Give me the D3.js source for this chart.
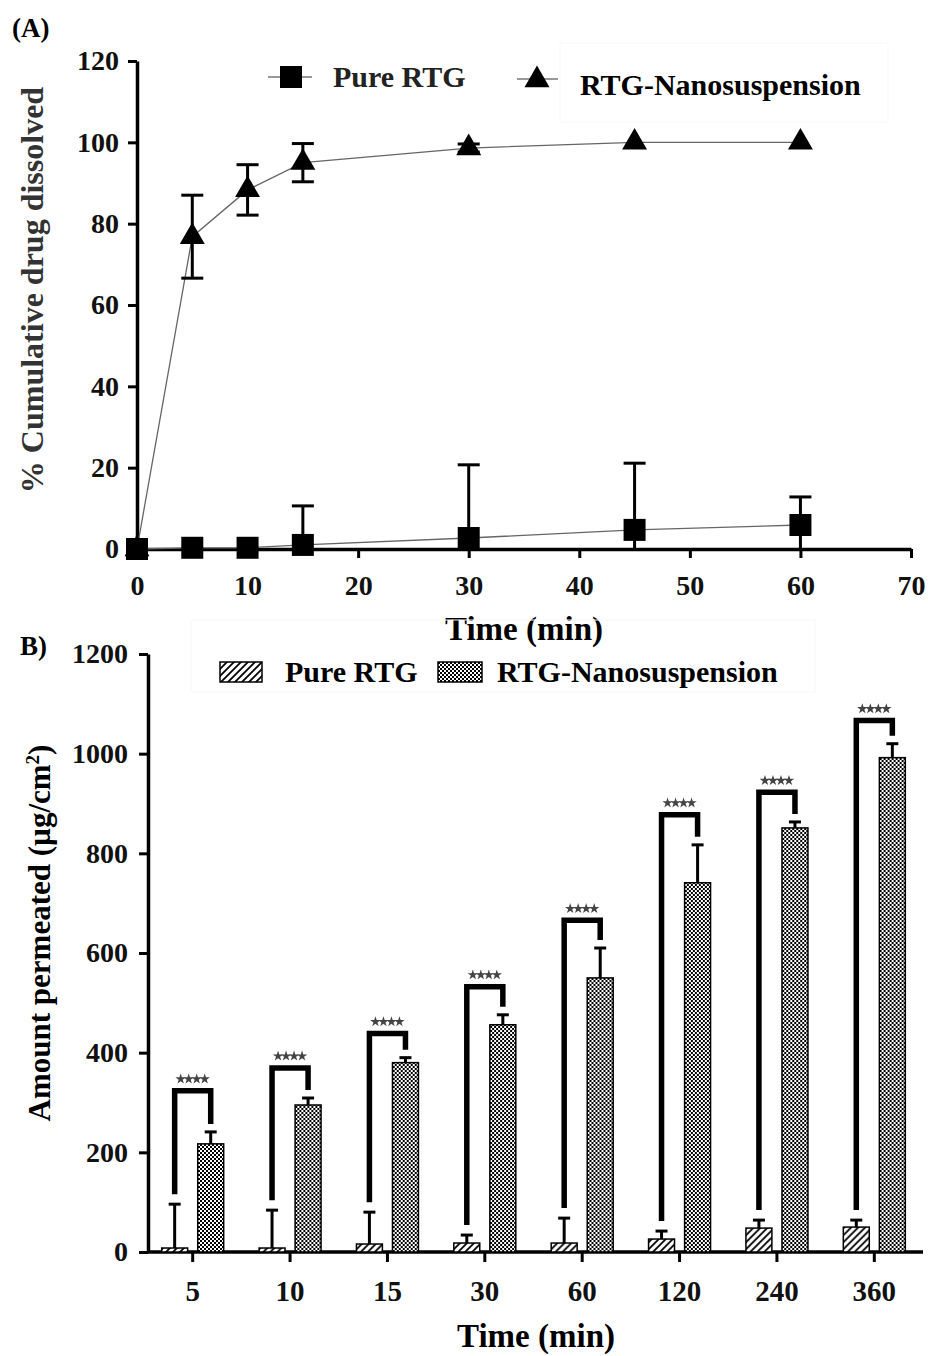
<!DOCTYPE html>
<html>
<head>
<meta charset="utf-8">
<script src="https://cdnjs.cloudflare.com/ajax/libs/d3/7.8.5/d3.min.js"></script>
<style>
  body { margin: 0; background: #fff; }
  svg { display: block; font-family: "Liberation Serif", "Times New Roman", serif; font-weight: bold; }
</style>
</head>
<body>
<script>

// ---- panel A : dissolution ----
var timeA = [0, 5, 10, 15, 30, 45, 60];
var pureA = [0, 0.3, 0.3, 1.0, 2.7, 4.7, 5.9];
var pureAErr = [0, 0, 0, 9.6, 18, 16.4, 6.9];
var nanoA = [0, 76.8, 88.3, 95, 98.6, 100, 100];
var nanoAErr = [0, 10.2, 6.2, 4.7, 1, 0, 0];
var xTicksA = [0, 10, 20, 30, 40, 50, 60, 70];
var yTicksA = [0, 20, 40, 60, 80, 100, 120];

// ---- panel B : permeation ----
var timeB = ["5", "10", "15", "30", "60", "120", "240", "360"];
var pureB = [8, 8, 16, 18, 18, 26, 48, 50];
var pureBErr = [88, 76, 64, 16, 50, 16, 16, 14];
var nanoB = [217, 295, 380, 456, 550, 741, 851, 992];
var nanoBErr = [24, 14, 10, 20, 60, 76, 12, 28];
var bracketB = [329, 375, 444, 538, 671, 883, 928, 1072];
var yTicksB = [0, 200, 400, 600, 800, 1000, 1200];

var svg = d3.select("body").append("svg")
    .attr("width", 928)
    .attr("height", 1356);

var defs = svg.append("defs");

var hatch = defs.append("pattern")
    .attr("id", "hatch")
    .attr("patternUnits", "userSpaceOnUse")
    .attr("width", 7).attr("height", 7);
hatch.append("rect").attr("width", 7).attr("height", 7).attr("fill", "#fff");
hatch.append("path")
    .attr("d", "M-1,1 l2,-2 M0,7 l7,-7 M6,8 l2,-2")
    .attr("stroke", "#000").attr("stroke-width", 1.8);

var checker = defs.append("pattern")
    .attr("id", "checker")
    .attr("patternUnits", "userSpaceOnUse")
    .attr("width", 4).attr("height", 4);
checker.append("rect").attr("width", 4).attr("height", 4).attr("fill", "#fff");
checker.append("rect").attr("width", 2).attr("height", 2).attr("fill", "#000");
checker.append("rect").attr("x", 2).attr("y", 2).attr("width", 2).attr("height", 2).attr("fill", "#000");

drawPanelA();
drawPanelB();

function styleAxis(g, fontSize) {
    g.select(".domain").attr("stroke", "#000").attr("stroke-width", 3.5);
    g.selectAll(".tick line").attr("stroke", "#000").attr("stroke-width", 3);
    g.selectAll(".tick text")
        .attr("fill", "#111")
        .style("font-size", fontSize + "px")
        .style("font-family", "'Liberation Serif', 'Times New Roman', serif")
        .style("font-weight", "bold");
}

function drawPanelA() {
    var x = d3.scaleLinear().domain([0, 70]).range([137, 911]);
    var y = d3.scaleLinear().domain([0, 120]).range([549, 61]);

    var gx = svg.append("g")
        .attr("transform", "translate(0," + y(0) + ")")
        .call(d3.axisBottom(x).tickValues(xTicksA).tickSize(9).tickPadding(17).tickSizeOuter(0));
    styleAxis(gx, 28);

    var gy = svg.append("g")
        .attr("transform", "translate(" + x(0) + ",0)")
        .call(d3.axisLeft(y).tickValues(yTicksA).tickSize(9).tickPadding(9).tickSizeOuter(0));
    styleAxis(gy, 28);

    var nano = timeA.map(function(t, i) { return { t: t, v: nanoA[i], e: nanoAErr[i] }; });
    var pure = timeA.map(function(t, i) { return { t: t, v: pureA[i], e: pureAErr[i] }; });

    var line = d3.line()
        .x(function(d) { return x(d.t); })
        .y(function(d) { return y(d.v); });

    [nano, pure].forEach(function(series) {
        svg.append("path")
            .datum(series)
            .attr("d", line)
            .attr("fill", "none")
            .attr("stroke", "#666")
            .attr("stroke-width", 1.3);
    });

    // error bars
    var capW = 11;
    [nano, pure].forEach(function(series) {
        var eb = svg.append("g").attr("stroke", "#000").attr("stroke-width", 3);
        series.filter(function(d) { return d.e > 0; }).forEach(function(d) {
            var lo = Math.max(0, d.v - d.e), hi = d.v + d.e;
            eb.append("line")
                .attr("x1", x(d.t)).attr("x2", x(d.t))
                .attr("y1", y(lo)).attr("y2", y(hi));
            eb.append("line")
                .attr("x1", x(d.t) - capW).attr("x2", x(d.t) + capW)
                .attr("y1", y(hi)).attr("y2", y(hi));
            if (d.v - d.e > 0) {
                eb.append("line")
                    .attr("x1", x(d.t) - capW).attr("x2", x(d.t) + capW)
                    .attr("y1", y(lo)).attr("y2", y(lo));
            }
        });
    });

    var tri = d3.symbol().type(d3.symbolTriangle).size(270);
    var sq = d3.symbol().type(d3.symbolSquare).size(484);

    svg.append("g").selectAll("path")
        .data(nano)
        .enter()
        .append("path")
        .attr("d", tri)
        .attr("transform", function(d) { return "translate(" + x(d.t) + "," + y(d.v) + ")"; })
        .attr("fill", "#000");

    svg.append("g").selectAll("path")
        .data(pure)
        .enter()
        .append("path")
        .attr("d", sq)
        .attr("transform", function(d) { return "translate(" + x(d.t) + "," + y(d.v) + ")"; })
        .attr("fill", "#000");

    // legend
    svg.append("rect")
        .attr("x", 560).attr("y", 43).attr("width", 328).attr("height", 79)
        .attr("fill", "none").attr("stroke", "#f8f8f8");
    svg.append("line").attr("x1", 268).attr("x2", 312).attr("y1", 77).attr("y2", 77)
        .attr("stroke", "#777").attr("stroke-width", 1.4);
    svg.append("path").attr("d", sq).attr("transform", "translate(291,77)");
    svg.append("text").attr("x", 333).attr("y", 87).attr("fill", "#222").style("font-size", "30px").text("Pure RTG");
    svg.append("line").attr("x1", 517).attr("x2", 558).attr("y1", 79).attr("y2", 79)
        .attr("stroke", "#777").attr("stroke-width", 1.4);
    svg.append("path").attr("d", tri).attr("transform", "translate(537,80)");
    svg.append("text").attr("x", 580).attr("y", 95).style("font-size", "30px").text("RTG-Nanosuspension");

    // titles
    svg.append("text").attr("x", 12).attr("y", 37).style("font-size", "27px").text("(A)");
    svg.append("text")
        .attr("x", 524).attr("y", 640)
        .attr("text-anchor", "middle")
        .style("font-size", "33px")
        .text("Time (min)");
    svg.append("text")
        .attr("transform", "translate(43,290) rotate(-90)")
        .attr("text-anchor", "middle")
        .attr("fill", "#333")
        .style("font-size", "32px")
        .text("% Cumulative drug dissolved");
}

function drawPanelB() {
    var x0 = d3.scaleBand().domain(timeB).range([144, 923]);
    var x1 = d3.scaleBand().domain(["pure", "nano"])
        .range([x0.bandwidth() / 2 - 31, x0.bandwidth() / 2 + 31])
        .paddingInner(0.28);
    var y = d3.scaleLinear().domain([0, 1200]).range([1252, 654]);

    var gx = svg.append("g")
        .attr("transform", "translate(0," + y(0) + ")")
        .call(d3.axisBottom(x0).tickSize(10).tickPadding(18).tickSizeOuter(0));
    gx.select(".domain").remove();
    styleAxis(gx, 29);
    svg.append("line")
        .attr("x1", 148).attr("x2", 923)
        .attr("y1", y(0)).attr("y2", y(0))
        .attr("stroke", "#000").attr("stroke-width", 3.5);

    var gy = svg.append("g")
        .attr("transform", "translate(148,0)")
        .call(d3.axisLeft(y).tickValues(yTicksB).tickFormat(d3.format("d"))
            .tickSize(9).tickPadding(11).tickSizeOuter(0));
    styleAxis(gy, 28);

    var rows = timeB.map(function(t, i) {
        return { t: t, pure: pureB[i], pureErr: pureBErr[i], nano: nanoB[i], nanoErr: nanoBErr[i], top: bracketB[i] };
    });

    var groups = svg.append("g").selectAll("g")
        .data(rows)
        .enter()
        .append("g")
        .attr("transform", function(d) { return "translate(" + x0(d.t) + ",0)"; });

    var bw = x1.bandwidth();
    var capW = 6;

    ["pure", "nano"].forEach(function(k) {
        // error bar (upper)
        groups.append("line")
            .attr("x1", x1(k) + bw / 2).attr("x2", x1(k) + bw / 2)
            .attr("y1", function(d) { return y(d[k]); })
            .attr("y2", function(d) { return y(d[k] + d[k + "Err"]); })
            .attr("stroke", "#000").attr("stroke-width", 3);
        groups.append("line")
            .attr("x1", x1(k) + bw / 2 - capW).attr("x2", x1(k) + bw / 2 + capW)
            .attr("y1", function(d) { return y(d[k] + d[k + "Err"]); })
            .attr("y2", function(d) { return y(d[k] + d[k + "Err"]); })
            .attr("stroke", "#000").attr("stroke-width", 3);
        groups.append("rect")
            .attr("x", x1(k))
            .attr("width", bw)
            .attr("y", function(d) { return y(d[k]); })
            .attr("height", function(d) { return y(0) - y(d[k]); })
            .attr("fill", k == "pure" ? "url(#hatch)" : "url(#checker)")
            .attr("stroke", "#000")
            .attr("stroke-width", 1.5);
    });

    // significance brackets
    groups.append("path")
        .attr("d", function(d) {
            var lx = x1("pure") + bw / 2, rx = x1("nano") + bw / 2;
            var ty = y(d.top) + 2.75;
            var lb = y(d.pure + d.pureErr) - 10;
            var rb = y(d.nano + d.nanoErr) - 8;
            return "M" + lx + "," + lb + "V" + ty + "H" + rx + "V" + rb;
        })
        .attr("fill", "none")
        .attr("stroke", "#000")
        .attr("stroke-width", 5.5);

    var star = d3.symbol().type(d3.symbolStar).size(34);
    groups.each(function(d) {
        var g = d3.select(this);
        var cx = (x1("pure") + x1("nano") + bw) / 2;
        for (var s = 0; s < 4; s++) {
            g.append("path")
                .attr("d", star)
                .attr("transform", "translate(" + (cx - 12 + s * 8) + "," + (y(d.top) - 9) + ")")
                .attr("fill", "#444");
        }
    });

    // legend
    svg.append("rect")
        .attr("x", 191).attr("y", 620).attr("width", 624).attr("height", 72)
        .attr("fill", "none").attr("stroke", "#f8f8f8");
    svg.append("rect").attr("x", 220).attr("y", 662).attr("width", 42).attr("height", 20)
        .attr("fill", "url(#hatch)").attr("stroke", "#000").attr("stroke-width", 1.5);
    svg.append("text").attr("x", 285).attr("y", 682).style("font-size", "30px").text("Pure RTG");
    svg.append("rect").attr("x", 438).attr("y", 662).attr("width", 44).attr("height", 20)
        .attr("fill", "url(#checker)").attr("stroke", "#000").attr("stroke-width", 1.5);
    svg.append("text").attr("x", 497).attr("y", 682).style("font-size", "30px").text("RTG-Nanosuspension");

    // titles
    svg.append("text").attr("x", 20).attr("y", 655).style("font-size", "27px").text("B)");
    svg.append("text")
        .attr("x", 536).attr("y", 1347)
        .attr("text-anchor", "middle")
        .style("font-size", "33px")
        .text("Time (min)");
    var yl = svg.append("text")
        .attr("transform", "translate(50,933) rotate(-90)")
        .attr("text-anchor", "middle")
        .style("font-size", "31px");
    yl.append("tspan").text("Amount permeated (\u00b5g/cm");
    yl.append("tspan").attr("dy", -11).style("font-size", "19px").text("2");
    yl.append("tspan").attr("dy", 11).text(")");
}

</script>
</body>
</html>
